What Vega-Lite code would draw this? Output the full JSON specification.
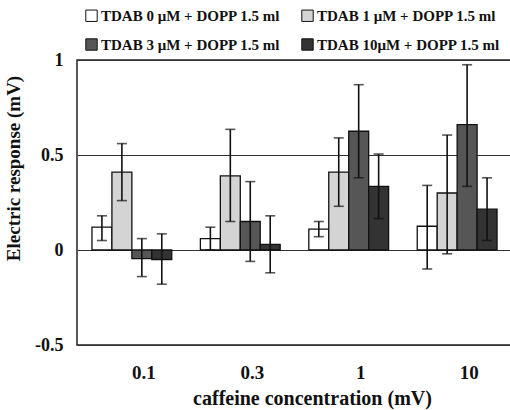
{
  "$schema": "https://vega.github.io/schema/vega-lite/v6.json",
  "autosize": "none",
  "padding": {"left": 77, "top": 60, "right": 0, "bottom": 65},
  "width": 435,
  "height": 285,
  "background": "white",
  "config": {
    "font": "Liberation Serif",
    "view": {"stroke": "#222", "strokeWidth": 1.5},
    "axis": {"labelFont": "Liberation Serif", "titleFont": "Liberation Serif", "labelFontWeight": "bold", "titleFontWeight": "bold", "labelColor": "#111", "titleColor": "#111"},
    "legend": {"labelFont": "Liberation Serif"}
  },
  "data": {
    "values": [
      {"conc": "0.1", "group": "TDAB 0 μM + DOPP 1.5 ml", "v": 0.12, "lo": 0.05, "hi": 0.18},
      {"conc": "0.1", "group": "TDAB 1 μM + DOPP 1.5 ml", "v": 0.41, "lo": 0.26, "hi": 0.56},
      {"conc": "0.1", "group": "TDAB 3 μM + DOPP 1.5 ml", "v": -0.045, "lo": -0.14, "hi": 0.06},
      {"conc": "0.1", "group": "TDAB 10μM + DOPP 1.5 ml", "v": -0.05, "lo": -0.18, "hi": 0.085},
      {"conc": "0.3", "group": "TDAB 0 μM + DOPP 1.5 ml", "v": 0.06, "lo": 0.0, "hi": 0.12},
      {"conc": "0.3", "group": "TDAB 1 μM + DOPP 1.5 ml", "v": 0.39, "lo": 0.15, "hi": 0.635},
      {"conc": "0.3", "group": "TDAB 3 μM + DOPP 1.5 ml", "v": 0.15, "lo": -0.06, "hi": 0.36},
      {"conc": "0.3", "group": "TDAB 10μM + DOPP 1.5 ml", "v": 0.03, "lo": -0.12, "hi": 0.18},
      {"conc": "1", "group": "TDAB 0 μM + DOPP 1.5 ml", "v": 0.11, "lo": 0.07, "hi": 0.15},
      {"conc": "1", "group": "TDAB 1 μM + DOPP 1.5 ml", "v": 0.41, "lo": 0.23, "hi": 0.59},
      {"conc": "1", "group": "TDAB 3 μM + DOPP 1.5 ml", "v": 0.625, "lo": 0.38, "hi": 0.87},
      {"conc": "1", "group": "TDAB 10μM + DOPP 1.5 ml", "v": 0.335, "lo": 0.165, "hi": 0.505},
      {"conc": "10", "group": "TDAB 0 μM + DOPP 1.5 ml", "v": 0.125, "lo": -0.1, "hi": 0.34},
      {"conc": "10", "group": "TDAB 1 μM + DOPP 1.5 ml", "v": 0.3, "lo": -0.02, "hi": 0.605},
      {"conc": "10", "group": "TDAB 3 μM + DOPP 1.5 ml", "v": 0.66, "lo": 0.335, "hi": 0.975},
      {"conc": "10", "group": "TDAB 10μM + DOPP 1.5 ml", "v": 0.215, "lo": 0.05, "hi": 0.38}
    ]
  },
  "encoding": {
    "x": {
      "field": "conc", "type": "nominal", "sort": ["0.1", "0.3", "1", "10"],
      "scale": {"paddingInner": 0.264, "paddingOuter": 0.138},
      "axis": {
        "title": "caffeine concentration (mV)", "labelAngle": 0, "labelFontSize": 19, "titleFontSize": 20,
        "labelFont": "Liberation Serif", "titleFont": "Liberation Serif",
        "ticks": false, "domain": false, "labelPadding": 18, "labelOffset": 12, "titlePadding": 6, "titleX": 235
      }
    },
    "xOffset": {
      "field": "group", "type": "nominal",
      "sort": ["TDAB 0 μM + DOPP 1.5 ml", "TDAB 1 μM + DOPP 1.5 ml", "TDAB 3 μM + DOPP 1.5 ml", "TDAB 10μM + DOPP 1.5 ml"],
      "scale": {"paddingInner": 0, "paddingOuter": 0}
    }
  },
  "layer": [
    {
      "mark": {"type": "bar", "stroke": "#111", "strokeWidth": 1.3},
      "encoding": {
        "y": {
          "field": "v", "type": "quantitative",
          "scale": {"domain": [-0.5, 1], "nice": false, "zero": false},
          "axis": {
            "title": "Electric response (mV)", "values": [-0.5, 0, 0.5, 1], "labelFontSize": 18, "titleFontSize": 19,
            "labelFont": "Liberation Serif", "titleFont": "Liberation Serif",
            "ticks": false, "domain": false, "labelPadding": 14, "titlePadding": 11, "titleY": 108,
            "grid": true, "gridColor": "#333", "gridWidth": 1.2, "gridOpacity": 1,
            "labelExpr": "datum.value"
          }
        },
        "color": {
          "field": "group", "type": "nominal",
          "scale": {
            "domain": ["TDAB 0 μM + DOPP 1.5 ml", "TDAB 3 μM + DOPP 1.5 ml", "TDAB 1 μM + DOPP 1.5 ml", "TDAB 10μM + DOPP 1.5 ml"],
            "range": ["#ffffff", "#565656", "#d4d4d4", "#333333"]
          },
          "legend": {
            "title": null, "orient": "none", "legendX": 7, "legendY": -52, "columns": 2, "columnPadding": 18, "rowPadding": 12,
            "symbolType": "square", "symbolSize": 130, "symbolStrokeColor": "#111", "symbolStrokeWidth": 1,
            "labelFont": "Liberation Serif", "labelFontWeight": "bold", "labelFontSize": 15, "labelColor": "#111", "labelOffset": 2, "labelLimit": 400
          }
        }
      }
    },
    {
      "mark": {"type": "rule", "color": "#111", "strokeWidth": 1.6},
      "encoding": {"y": {"field": "lo", "type": "quantitative"}, "y2": {"field": "hi"}}
    },
    {
      "mark": {"type": "tick", "color": "#111", "thickness": 1.6, "size": 10},
      "encoding": {"y": {"field": "lo", "type": "quantitative"}}
    },
    {
      "mark": {"type": "tick", "color": "#111", "thickness": 1.6, "size": 10},
      "encoding": {"y": {"field": "hi", "type": "quantitative"}}
    }
  ]
}
